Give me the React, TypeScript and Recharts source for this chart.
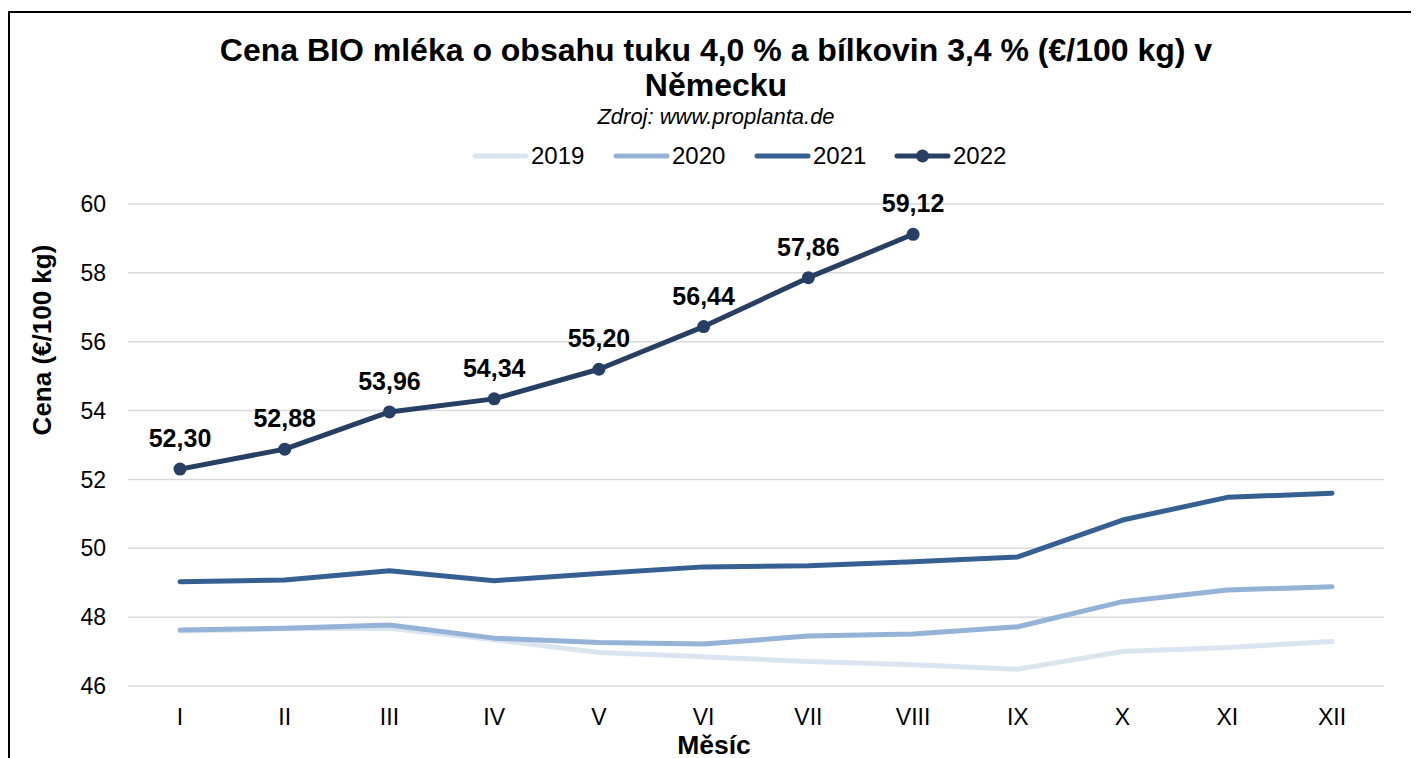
import React from 'react';
import { LineChart, Line, XAxis, YAxis, CartesianGrid, LabelList } from 'recharts';

const months = ['I', 'II', 'III', 'IV', 'V', 'VI', 'VII', 'VIII', 'IX', 'X', 'XI', 'XII'];
const v2019 = [47.6, 47.66, 47.68, 47.34, 46.97, 46.85, 46.71, 46.62, 46.49, 47.0, 47.12, 47.29];
const v2020 = [47.63, 47.68, 47.77, 47.39, 47.26, 47.22, 47.45, 47.51, 47.72, 48.45, 48.79, 48.88];
const v2021 = [49.03, 49.08, 49.35, 49.06, 49.27, 49.46, 49.49, 49.61, 49.75, 50.82, 51.48, 51.6];
const v2022 = [52.3, 52.88, 53.96, 54.34, 55.2, 56.44, 57.86, 59.12];
const yTicks = [46, 48, 50, 52, 54, 56, 58, 60];

const series = [
  { key: 'y2019', name: '2019', color: '#dbe5f1', values: v2019 },
  { key: 'y2020', name: '2020', color: '#95b3d7', values: v2020 },
  { key: 'y2021', name: '2021', color: '#376092', values: v2021 },
  { key: 'y2022', name: '2022', color: '#263f63', values: v2022 },
];

const data = months.map((m, i) => {
  const row: Record<string, any> = { month: m };
  series.forEach((s) => {
    row[s.key] = i < s.values.length ? s.values[i] : null;
  });
  return row;
});

const FONT = '"Liberation Sans", Arial, sans-serif';

const renderLabel = (props: any) => {
  const { x, y, value } = props;
  if (value == null) return null;
  return (
    <text
      x={x}
      y={y - 31}
      textAnchor="middle"
      dominantBaseline="central"
      fontSize={25}
      fontWeight="bold"
      fill="#000"
      fontFamily={FONT}
    >
      {Number(value).toFixed(2).replace('.', ',')}
    </text>
  );
};

const legendPos = [464, 605, 746, 886];

export default function App() {
  return (
    <div style={{ position: 'relative', width: 1411, height: 750, fontFamily: FONT, color: '#000' }}>
      <div
        style={{
          position: 'absolute',
          left: 0,
          top: 3,
          width: 1411,
          height: 747,
          borderTop: '2px solid #000',
          borderLeft: '2px solid #000',
          boxSizing: 'border-box',
        }}
      />
      <div style={{ position: 'absolute', left: 0, top: 0 }}>
        <LineChart
          width={1411}
          height={750}
          data={data}
          margin={{ top: 196, right: 35, bottom: 32, left: 60 }}
        >
          <CartesianGrid horizontal vertical={false} stroke="#d9d9d9" strokeWidth={1.5} />
          <XAxis
            dataKey="month"
            padding={{ left: 52, right: 52 }}
            axisLine={false}
            tickLine={false}
            height={40}
            tickMargin={17}
            tick={{ fontSize: 23, fill: '#000', fontFamily: FONT }}
            interval={0}
          />
          <YAxis
            domain={[46, 60]}
            ticks={yTicks}
            width={60}
            axisLine={false}
            tickLine={false}
            tickMargin={16}
            tick={{ fontSize: 23, fill: '#000', fontFamily: FONT }}
          />
          {series.map((s) => (
            <Line
              key={s.key}
              dataKey={s.key}
              name={s.name}
              stroke={s.color}
              strokeWidth={5}
              strokeLinecap="round"
              strokeLinejoin="round"
              isAnimationActive={false}
              connectNulls={false}
              dot={s.key === 'y2022' ? { r: 6.5, fill: s.color, stroke: s.color, strokeWidth: 0 } : false}
              activeDot={false}
            >
              {s.key === 'y2022' ? <LabelList dataKey={s.key} content={renderLabel} /> : null}
            </Line>
          ))}
        </LineChart>
      </div>
      <div
        style={{
          position: 'absolute',
          left: 0,
          width: 1416,
          top: 25,
          textAlign: 'center',
          fontWeight: 'bold',
          fontSize: 32,
          lineHeight: '35px',
        }}
      >
        Cena BIO mléka o obsahu tuku 4,0 % a bílkovin 3,4 % (€/100 kg) v
        <br />
        Německu
      </div>
      <div
        style={{
          position: 'absolute',
          left: 0,
          width: 1416,
          top: 97,
          textAlign: 'center',
          fontStyle: 'italic',
          fontSize: 22,
          lineHeight: '24px',
        }}
      >
        Zdroj: www.proplanta.de
      </div>
      {series.map((s, i) => (
        <div
          key={s.key}
          style={{
            position: 'absolute',
            left: legendPos[i],
            top: 134,
            height: 28,
            display: 'flex',
            alignItems: 'center',
            fontSize: 24,
          }}
        >
          <svg width={57} height={20} style={{ marginRight: 2 }}>
            <line x1={3} y1={10} x2={54} y2={10} stroke={s.color} strokeWidth={5} strokeLinecap="round" />
            {s.key === 'y2022' ? <circle cx={28.5} cy={10} r={6.5} fill={s.color} /> : null}
          </svg>
          <span>{s.name}</span>
        </div>
      ))}
      <div
        style={{
          position: 'absolute',
          left: 34,
          top: 332,
          transform: 'translate(-50%, -50%) rotate(-90deg)',
          whiteSpace: 'nowrap',
          fontWeight: 'bold',
          fontSize: 26,
        }}
      >
        Cena (€/100 kg)
      </div>
      <div
        style={{
          position: 'absolute',
          left: 706,
          top: 737,
          transform: 'translate(-50%, -50%)',
          whiteSpace: 'nowrap',
          fontWeight: 'bold',
          fontSize: 26.5,
        }}
      >
        Měsíc
      </div>
    </div>
  );
}
